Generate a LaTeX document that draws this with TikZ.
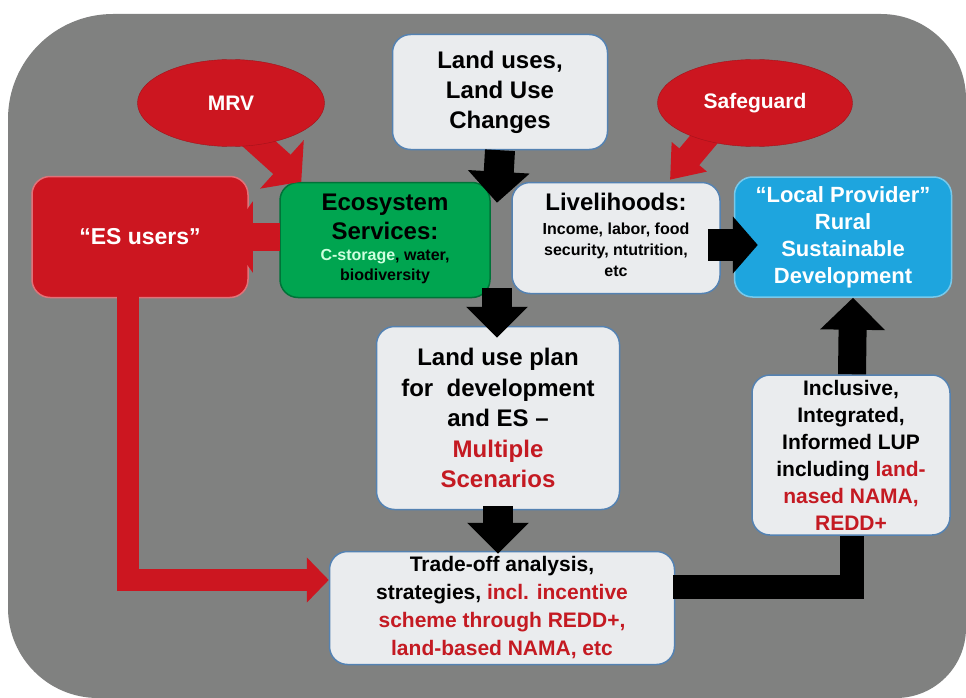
\documentclass[tikz,border=0pt]{standalone}
\usepackage{fontspec}
\setmainfont{Liberation Sans}
\usetikzlibrary{arrows.meta, shapes.geometric, calc}

\definecolor{bggray}{RGB}{128,129,128}
\definecolor{esred}{RGB}{204,22,32}
\definecolor{txtred}{RGB}{196,26,34}
\definecolor{boxfill}{RGB}{234,236,238}
\definecolor{boxline}{RGB}{84,130,178}
\definecolor{esgreen}{RGB}{0,165,80}
\definecolor{lpblue}{RGB}{30,165,222}
\definecolor{mint}{RGB}{205,255,222}

\newcommand{\fsz}[2]{\fontsize{#1}{#2}\selectfont}

\tikzset{
    x=1pt, y=-1pt, % one unit is one pixel of the reference, y downwards
    box/.style={rounded corners=18pt, draw=boxline, line width=1.5pt, fill=boxfill, align=center, inner sep=2pt}, % rounded text boxes
    bubble/.style={ellipse, fill=esred, draw=esred!80!black, text=white, font=\bfseries\fsz{21}{25}, inner sep=0pt}, % red ovals
    blkarrow/.style={black, line width=30pt, -{Triangle[length=31pt,width=60pt]}}, % fat black arrows
    redarrow/.style={esred, line width=26pt, -{Triangle[length=26pt,width=64pt]}}, % fat red arrows
}

\begin{document}
\begin{tikzpicture}
    \useasboundingbox (0,0) rectangle (966,698);
    \fill[white] (0,0) rectangle (966,698);
    \fill[bggray] (8,300) [rounded corners=105pt] -- (8,14) [rounded corners=85pt] -- (966,14) [rounded corners=70pt] -- (966,698) [rounded corners=90pt] -- (8,698) [sharp corners] -- cycle;

    \node[box, minimum width=215pt, minimum height=115pt, font=\bfseries\fsz{24}{30}] (landuse) at (500,92) {Land uses,\\Land Use\\Changes};
    \node[box, draw=esgreen!70!black, fill=esgreen, minimum width=210pt, minimum height=115pt, font=\bfseries\fsz{16}{20}] (ecosys) at (385,240)
        {\begin{tabular}{@{}c@{}}\fsz{24}{29}Ecosystem\\[6pt]\fsz{24}{29}Services:\\[1pt]{\color{mint}C-storage}, water,\\biodiversity\end{tabular}};
    \node[box, minimum width=208pt, minimum height=111pt, font=\bfseries\fsz{16}{21}] (livel) at (616,238)
        {\begin{tabular}{@{}c@{}}\fsz{24}{29}Livelihoods:\\[3pt]Income, labor, food\\security, ntutrition,\\etc\end{tabular}};
    \node[box, draw=lpblue!60!white, fill=lpblue, text=white, minimum width=217pt, minimum height=120pt, font=\bfseries\fsz{22}{27}] (local) at (843,237)
        {“Local Provider”\\Rural\\Sustainable\\Development};
    \node[box, draw=esred!60!white, fill=esred, text=white, minimum width=216pt, minimum height=121pt, font=\bfseries\fsz{23}{28}] (esusers) at (140,237) {“ES users”};
    \node[box, minimum width=243pt, minimum height=183pt, font=\bfseries\fsz{24}{30.5}] (plan) at (498,418)
        {Land use plan\\for~ development\\and ES –\\{\color{txtred}Multiple}\\{\color{txtred}Scenarios}};
    \node[box, minimum width=198pt, minimum height=160pt, font=\bfseries\fsz{21}{27}] (inclusive) at (851,455)
        {Inclusive,\\Integrated,\\Informed LUP\\including {\color{txtred}land-}\\{\color{txtred}nased NAMA,}\\{\color{txtred}REDD+}};
    \node[box, minimum width=345pt, minimum height=113pt, font=\bfseries\fsz{21}{28}] (tradeoff) at (502,608)
        {Trade-off analysis,\\strategies, {\color{txtred}incl. incentive}\\{\color{txtred}scheme through REDD+,}\\{\color{txtred}land-based NAMA, etc}};

    % connectors
    \draw[blkarrow] (landuse.south) -- ($(landuse.south |- ecosys.north)+(-3,21)$);
    \draw[blkarrow] ($(ecosys.south -| plan.north)+(-1,-10)$) -- ($(plan.north)+(-1,12)$);
    \draw[blkarrow] ($(plan.south)+(0,-4)$) -- ($(tradeoff.north -| plan.south)+(0,3)$);
    \draw[blkarrow, line width=32pt, -{Triangle[length=25pt,width=56pt]}] ($(livel.east)+(-13,7)$) -- ($(local.west |- livel.east)+(24,7)$);
    \draw[redarrow, line width=28pt, -{Triangle[length=25pt,width=70pt]}] ($(ecosys.west)+(1,-3)$) -- ($(esusers.east |- ecosys.west)+(-21,-3)$);
    \draw[redarrow, line width=22pt, -{Triangle[length=22pt,width=44pt]}] ($(esusers.south)+(-12,-2)$) |- ($(tradeoff.west)+(0,-28)$);
    \draw[black, line width=24pt] ($(tradeoff.east)+(-2,-21)$) -| ($(inclusive.south)+(1,0)$);
    \draw[blkarrow, line width=28pt, -{Triangle[length=32pt,width=63pt]}] ($(inclusive.north)+(1,0)$) -- ($(local.south)+(10,0)$);
    \draw[redarrow] ($(ecosys.north west)+(-38,-54)$) -- ($(ecosys.north west)+(22,0)$);
    \draw[redarrow, -{Triangle[length=30pt,width=44pt]}] ($(livel.north)+(96,-52)$) -- ($(livel.north)+(54,-2)$);

    \node[bubble, minimum width=187pt, minimum height=87pt] (mrv) at (231,103) {MRV};
    \node[bubble, minimum width=195pt, minimum height=87pt] (safe) at (755,103) {Safeguard};
\end{tikzpicture}
\end{document}
